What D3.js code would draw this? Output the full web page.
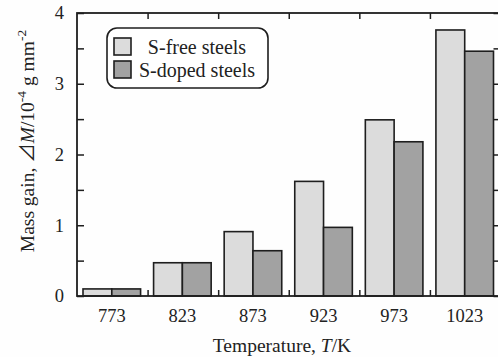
<!DOCTYPE html>
<html><head><meta charset="utf-8">
<script src="https://cdn.jsdelivr.net/npm/d3@7"></script>
<style>
html,body{margin:0;padding:0;background:#fff;}
svg{display:block;}
text{font-family:"Liberation Serif","Times New Roman",serif;fill:#222;}
</style></head>
<body>
<script>
const categories = ["773","823","873","923","973","1023"];
const seriesNames = ["S-free steels","S-doped steels"];
const sFree  = [0.10, 0.47, 0.91, 1.62, 2.49, 3.76];
const sDoped = [0.10, 0.47, 0.64, 0.97, 2.18, 3.46];
const yTickLabels = [0,1,2,3,4];
const yMinorTicks = [0,0.5,1,1.5,2,2.5,3,3.5,4];

const W = 498, H = 357;
const svg = d3.select("body").append("svg").attr("width", W).attr("height", H);
svg.append("rect").attr("width", W).attr("height", H).attr("fill", "#fefefe");

const mLeft = 77, mRight = 500.5, mTop = 13, mBottom = 296;
const x = d3.scaleBand().domain(categories).range([mLeft, mRight]).paddingInner(0).paddingOuter(0);
const y = d3.scaleLinear().domain([0,4]).range([mBottom, mTop]);
const colors = ["#dcdcdc", "#a2a2a2"];
const stroke = "#1e1e1e";

const inset = 6, gapR = 7;
const bw = (x.bandwidth() - inset - gapR) / 2;
const series = [sFree, sDoped];

// bars
series.forEach((vals, si) => {
  svg.append("g").selectAll("rect").data(categories).join("rect")
    .attr("x", c => x(c) + inset + si * bw)
    .attr("y", (c, i) => y(vals[i]))
    .attr("width", bw)
    .attr("height", (c, i) => y(0) - y(vals[i]))
    .attr("fill", colors[si])
    .attr("stroke", stroke)
    .attr("stroke-width", 1.6);
});

// axes (inward ticks)
const axL = d3.axisLeft(y).tickValues(yMinorTicks).tickSizeInner(-7).tickSizeOuter(0).tickFormat("");
const gL = svg.append("g").attr("transform", `translate(${mLeft},0)`).call(axL);
const axR = d3.axisRight(y).tickValues(yMinorTicks).tickSizeInner(-7).tickSizeOuter(0).tickFormat("");
const gR = svg.append("g").attr("transform", `translate(${mRight},0)`).call(axR);
const boundaries = categories.slice(1).map(c => x(c));
const xb = d3.scaleLinear().domain([mLeft, mRight]).range([mLeft, mRight]);
const axB = d3.axisBottom(xb).tickValues(boundaries).tickSizeInner(-6).tickSizeOuter(0).tickFormat("");
const gB = svg.append("g").attr("transform", `translate(0,${mBottom})`).call(axB);
const axT = d3.axisTop(xb).tickValues(boundaries).tickSizeInner(-6).tickSizeOuter(0).tickFormat("");
const gT = svg.append("g").attr("transform", `translate(0,${mTop})`).call(axT);
[gL, gR, gB, gT].forEach(g => {
  g.select(".domain").remove();
  g.selectAll(".tick line").attr("stroke", stroke).attr("stroke-width", 1.5);
});

// frame
svg.append("rect").attr("x", mLeft).attr("y", mTop).attr("width", mRight - mLeft).attr("height", mBottom - mTop)
  .attr("fill", "none").attr("stroke", stroke).attr("stroke-width", 1.8);

// y tick labels
svg.append("g").selectAll("text").data(yTickLabels).join("text")
  .attr("x", 64).attr("y", d => y(d)).attr("dy", "0.35em")
  .attr("text-anchor", "end").attr("font-size", 18.5).text(d => d);

// x tick labels
svg.append("g").selectAll("text").data(categories).join("text")
  .attr("x", c => x(c) + inset + bw).attr("y", 322)
  .attr("text-anchor", "middle").attr("font-size", 18.5).text(c => c);

// x axis title
const xt = svg.append("text").attr("x", 282).attr("y", 352).attr("text-anchor", "middle").attr("font-size", 19.5);
xt.append("tspan").text("Temperature, ");
xt.append("tspan").attr("font-style", "italic").text("T");
xt.append("tspan").text("/K");

// y axis title
const yt = svg.append("text").attr("transform", "translate(34,141) rotate(-90)")
  .attr("text-anchor", "middle").attr("font-size", 19.5);
yt.append("tspan").text("Mass gain, ");
yt.append("tspan").attr("font-family", "'Noto Sans CJK JP'").text("⊿");
yt.append("tspan").attr("font-style", "italic").text("M");
yt.append("tspan").text("/10");
yt.append("tspan").attr("dy", -8).attr("font-size", 13.5).text("-4");
yt.append("tspan").attr("dy", 8).text(" g mm");
yt.append("tspan").attr("dy", -8).attr("font-size", 13.5).text("-2");

// legend
const lg = svg.append("g");
lg.append("rect").attr("x", 107).attr("y", 28).attr("width", 161).attr("height", 60)
  .attr("rx", 10).attr("ry", 10).attr("fill", "#fff").attr("stroke", stroke).attr("stroke-width", 1.6);
seriesNames.forEach((n, i) => {
  lg.append("rect").attr("x", 114).attr("y", 38 + i * 23).attr("width", 17).attr("height", 17)
    .attr("fill", colors[i]).attr("stroke", stroke).attr("stroke-width", 1.6);
  lg.append("text").attr("x", 197).attr("y", 47 + i * 23).attr("dy", "0.35em")
    .attr("text-anchor", "middle").attr("font-size", 20).text(n);
});
</script>
</body></html>
